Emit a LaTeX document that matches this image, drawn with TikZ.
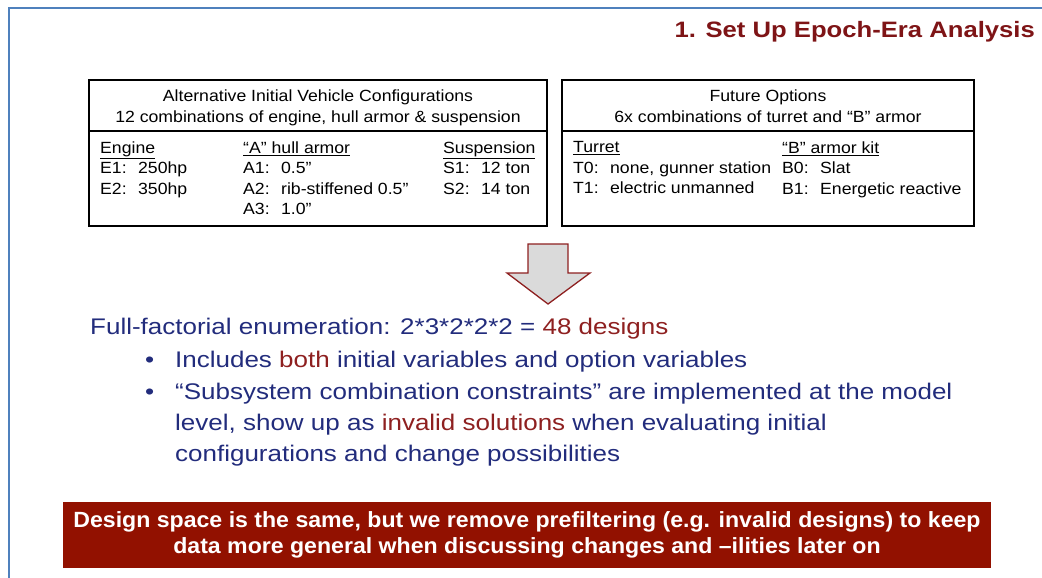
\documentclass[tikz,border=0pt]{standalone}
\usepackage{fontspec}
\setmainfont{Liberation Sans}[FakeStretch=1.15]
\newfontfamily\panelfont{Liberation Sans}[FakeStretch=1.09]
\newfontfamily\bannerfont{Liberation Sans}[FakeStretch=1.05]
\usetikzlibrary{positioning}
\definecolor{slideBlue}{HTML}{4F81BD}
\definecolor{titleRed}{HTML}{7E1416}
\definecolor{accentRed}{HTML}{8E2020}
\definecolor{textNavy}{HTML}{222C7C}
\definecolor{bannerRed}{HTML}{921100}
\definecolor{arrowGrey}{HTML}{DADADA}

\begin{document}
\begin{tikzpicture}[x=1pt, y=-1pt,
  panel/.style={draw=black, line width=1.6pt, minimum width=#1,
    minimum height=146, inner sep=0},
  panelHead/.style={inner sep=0, align=center,
    font=\panelfont\fontsize{16.2}{21}\selectfont},
  colText/.style={inner sep=0, align=left, anchor=north west,
    font=\panelfont\fontsize{16.2}{20.5}\selectfont},
  bodyText/.style={inner sep=0, align=left, anchor=north west, text=textNavy,
    font=\fontsize{22.6}{31}\selectfont}]

\useasboundingbox (0,0) rectangle (1042,578);

% slide frame and title
\draw[slideBlue, line width=2pt] (1042,8) -- (9,8) -- (9,578);
\node[anchor=base east, inner sep=0, text=titleRed,
      font=\fontsize{22.3}{26}\selectfont\bfseries] (title) at (1035,38)
  {1. Set Up Epoch-Era Analysis};

% initial configurations
\node[panel=458] (initBox) at (318,153) {};
\draw[line width=1.6pt] ([yshift=-52pt]initBox.north west) -- ([yshift=-52pt]initBox.north east);
\node[panelHead, anchor=north] (initHead) at ([yshift=-10pt]initBox.north)
  {Alternative Initial Vehicle Configurations\\12 combinations of engine, hull armor \& suspension};
\node[colText] (engCol) at (100,141.5)
  {\underline{Engine}\\E1:~ 250hp\\E2:~ 350hp};
\node[colText] (hullCol) at (243,141.5)
  {\underline{“A” hull armor}\\A1:~ 0.5”\\A2:~ rib-stiffened 0.5”\\A3:~ 1.0”};
\node[colText] (suspCol) at (443,141.5)
  {\underline{Suspension}\\S1:~ 12 ton\\S2:~ 14 ton};

% future options
\node[panel=412] (optBox) at (768,153) {};
\draw[line width=1.6pt] ([yshift=-52pt]optBox.north west) -- ([yshift=-52pt]optBox.north east);
\node[panelHead, anchor=north] (optHead) at ([yshift=-10pt]optBox.north)
  {Future Options\\6x combinations of turret and “B” armor};
\node[colText] (turretCol) at (573,141.5)
  {\underline{Turret}\\T0:~ none, gunner station\\T1:~ electric unmanned};
\node[colText] (kitCol) at (782,141.5)
  {\underline{“B” armor kit}\\B0:~ Slat\\B1:~ Energetic reactive};

% down arrow
\draw[accentRed, fill=arrowGrey, line width=1.3pt]
  (528,244) -- (568,244) -- (568,273) -- (590,273) -- (548,304)
  -- (507,273) -- (528,273) -- cycle;

% enumeration text
\node[bodyText] (enumLine) at (90,317.5)
  {Full-factorial enumeration: 2*3*2*2*2 = \textcolor{accentRed}{48 designs}};
\node[bodyText] (bulletOne) at (145,351)
  {\makebox[30pt][l]{\textbullet}Includes \textcolor{accentRed}{both} initial variables and option variables};
\node[bodyText] (bulletTwo) at (145,383)
  {\makebox[30pt][l]{\textbullet}“Subsystem combination constraints” are implemented at the model\\
   \hspace*{30pt}level, show up as \textcolor{accentRed}{invalid solutions} when evaluating initial\\
   \hspace*{30pt}configurations and change possibilities};

% take-away banner
\node[fill=bannerRed, minimum width=928, minimum height=66, inner sep=0,
      text=white, align=center, font=\bannerfont\fontsize{22}{26}\selectfont\bfseries] (banner) at (527,535)
  {Design space is the same, but we remove prefiltering (e.g. invalid designs) to keep\\
   data more general when discussing changes and –ilities later on};

\end{tikzpicture}
\end{document}
